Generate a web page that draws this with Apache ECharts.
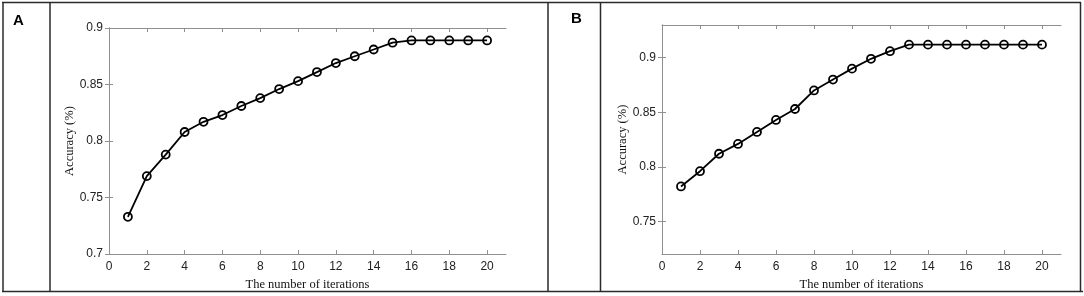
<!DOCTYPE html>
<html>
<head>
<meta charset="utf-8">
<script src="https://cdn.jsdelivr.net/npm/echarts@6/dist/echarts.min.js"></script>
<style>
html,body{margin:0;padding:0;background:#fff;}
#main{width:1084px;height:296px;}
</style>
</head>
<body>
<div id="main"></div>
<script>
// iterations 1..20
var iterations = [1,2,3,4,5,6,7,8,9,10,11,12,13,14,15,16,17,18,19,20];
var accA = [0.733,0.769,0.788,0.808,0.817,0.823,0.831,0.838,0.846,0.853,0.861,0.869,0.875,0.881,0.887,0.889,0.889,0.889,0.889,0.889];
var accB = [0.782,0.796,0.812,0.821,0.832,0.843,0.853,0.870,0.880,0.890,0.899,0.906,0.912,0.912,0.912,0.912,0.912,0.912,0.912,0.912];
var xTicks = [0,2,4,6,8,10,12,14,16,18,20];
var yTicksA = [0.7,0.75,0.8,0.85,0.9];
var yTicksB = [0.75,0.8,0.85,0.9];
var panelLabels = ['A','B'];

var chart = echarts.init(document.getElementById('main'));

var axisGray = '#8f8f8f';
var tickFont = {fontFamily:'Liberation Sans', fontSize:12, color:'#222'};
var nameFont = {fontFamily:'Liberation Serif', fontSize:12.5, color:'#111'};

function pairs(ys) {
    return iterations.map(function (x, i) { return [x, ys[i]]; });
}

function fmt(v) {
    return String(+v.toFixed(2));
}

var grids = [
    {left:109, top:28, width:397, height:228},
    {left:662, top:25, width:399, height:230}
];
var yRanges = [[0.7,0.9],[0.72,0.93]];
var yTicks = [yTicksA, yTicksB];

var xAxes = [], yAxes = [], series = [];
grids.forEach(function (g, k) {
    // bottom x axis
    xAxes.push({
        type:'value', gridIndex:k, min:0, max:21, position:'bottom',
        name:'The number of iterations', nameLocation:'middle', nameGap:22,
        nameTextStyle:nameFont,
        axisLine:{show:true, lineStyle:{color:axisGray, width:1}},
        axisTick:{show:true, inside:true, length:4, customValues:xTicks, lineStyle:{color:axisGray}},
        axisLabel:{show:true, customValues:xTicks, margin:7, fontFamily:tickFont.fontFamily, fontSize:tickFont.fontSize, color:tickFont.color},
        splitLine:{show:false}
    });
    // top x axis (box)
    xAxes.push({
        type:'value', gridIndex:k, min:0, max:21, position:'top',
        axisLine:{show:true, lineStyle:{color:axisGray, width:1}},
        axisTick:{show:true, inside:true, length:4, customValues:xTicks, lineStyle:{color:axisGray}},
        axisLabel:{show:false},
        splitLine:{show:false}
    });
    yAxes.push({
        type:'value', gridIndex:k, min:yRanges[k][0], max:yRanges[k][1], position:'left',
        name:'Accuracy (%)', nameLocation:'middle', nameGap:30, nameRotate:90,
        nameTextStyle:nameFont,
        axisLine:{show:true, lineStyle:{color:axisGray, width:1}},
        axisTick:{show:true, inside:true, length:4, customValues:yTicks[k], lineStyle:{color:axisGray}},
        axisLabel:{show:true, customValues:yTicks[k], margin:6, formatter:fmt,
            fontFamily:tickFont.fontFamily, fontSize:tickFont.fontSize, color:tickFont.color},
        splitLine:{show:false}
    });
    yAxes.push({
        type:'value', gridIndex:k, min:yRanges[k][0], max:yRanges[k][1], position:'right',
        axisLine:{show:true, lineStyle:{color:axisGray, width:1}},
        axisTick:{show:true, inside:true, length:4, customValues:yTicks[k], lineStyle:{color:axisGray}},
        axisLabel:{show:false},
        splitLine:{show:false}
    });
    series.push({
        type:'line', xAxisIndex:k*2, yAxisIndex:k*2,
        data:pairs(k === 0 ? accA : accB),
        symbol:'circle', symbolSize:8, showSymbol:true,
        lineStyle:{color:'#000', width:1.8},
        itemStyle:{color:'rgba(0,0,0,0)', borderColor:'#000', borderWidth:1.8},
        animation:false, silent:true
    });
});

// table frame around the two panels
var frameStyle = {stroke:'#2a2a2a', lineWidth:1.5};
var frameLines = [
    [2,2.5,1081,2.5], [2,291.5,1083,291.5],
    [3,2,3,292], [50,2,50,292], [548,2,548,292], [600.5,2,600.5,292], [1080.5,2,1080.5,292]
];
var graphics = frameLines.map(function (l) {
    return {type:'line', shape:{x1:l[0], y1:l[1], x2:l[2], y2:l[3]}, style:frameStyle, silent:true};
});
graphics.push({type:'text', left:13, top:13, style:{text:panelLabels[0], font:'bold 15px "Liberation Sans"', fill:'#000'}});
graphics.push({type:'text', left:571, top:11, style:{text:panelLabels[1], font:'bold 15px "Liberation Sans"', fill:'#000'}});

chart.setOption({
    animation:false,
    backgroundColor:'#fff',
    grid:grids,
    xAxis:xAxes,
    yAxis:yAxes,
    series:series,
    graphic:graphics
});
</script>
</body>
</html>
